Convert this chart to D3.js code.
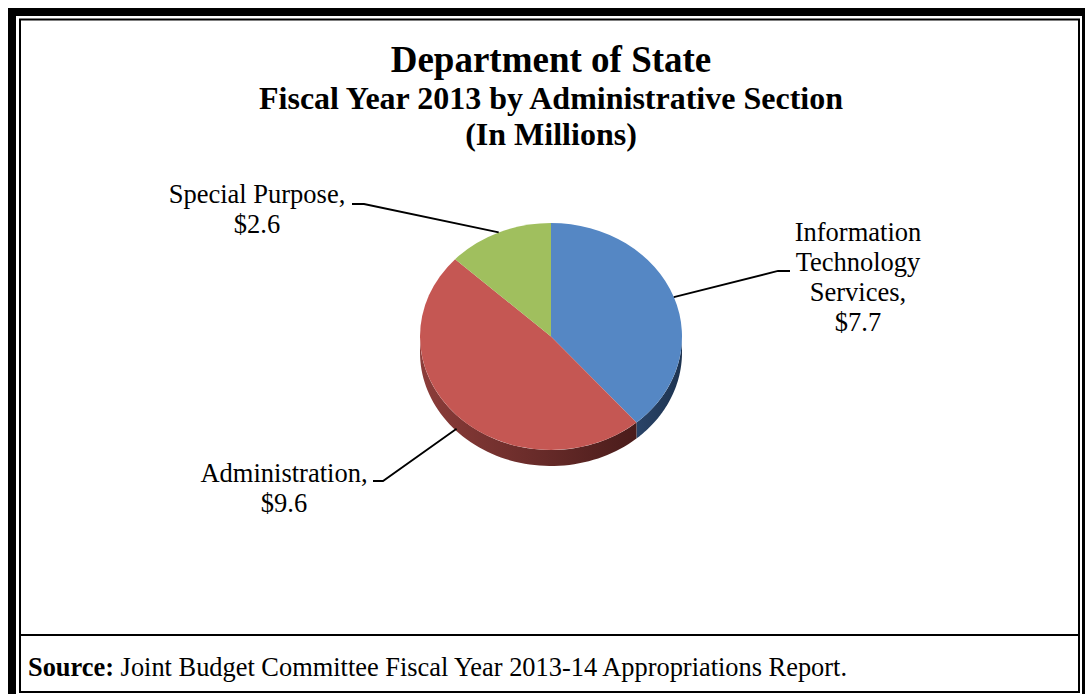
<!DOCTYPE html>
<html>
<head>
<meta charset="utf-8">
<script src="https://cdn.jsdelivr.net/npm/d3@7"></script>
<style>
  html, body { margin: 0; padding: 0; background: #fff; }
  svg { display: block; font-family: "Liberation Serif", "Times New Roman", serif; }
</style>
</head>
<body>
<svg id="chart" width="1085" height="694"></svg>
<script>
// data
var categories = ["Information Technology Services", "Administration", "Special Purpose"];
var values = [7.7, 9.6, 2.6];
var labelLines = [
    ["Information", "Technology", "Services,", "$7.7"],
    ["Administration,", "$9.6"],
    ["Special Purpose,", "$2.6"]
];
var titleLines = ["Department of State", "Fiscal Year 2013 by Administrative Section", "(In Millions)"];
var sourceBold = "Source:";
var sourceText = " Joint Budget Committee Fiscal Year 2013-14 Appropriations Report.";

var topColors  = ["#5587c4", "#c55753", "#a0bf5e"];
var sideColors = [["#2a4468", "#1d3350"], ["#8c3d3a", "#4a1c1b"], ["#6f8a3c", "#4f6428"]];

var svg = d3.select("#chart");
var W = 1085, H = 694;

// frame
svg.append("rect")
    .attr("x", 12).attr("y", 12)
    .attr("width", 1074).attr("height", 700)
    .attr("fill", "none").attr("stroke", "#000").attr("stroke-width", 8);
svg.append("rect")
    .attr("x", 20).attr("y", 19.5)
    .attr("width", 1059).attr("height", 672.5)
    .attr("fill", "none").attr("stroke", "#000").attr("stroke-width", 2);
svg.append("line")
    .attr("x1", 20).attr("x2", 1079)
    .attr("y1", 635).attr("y2", 635)
    .attr("stroke", "#000").attr("stroke-width", 2.2);

// titles
var titleSizes = [37, 32, 32];
var titleY = [72, 109, 145];
svg.selectAll(".title")
    .data(titleLines)
    .enter().append("text")
    .attr("class", "title")
    .attr("x", 551)
    .attr("y", (d, i) => titleY[i])
    .attr("text-anchor", "middle")
    .style("font-weight", "bold")
    .style("font-size", (d, i) => titleSizes[i] + "px")
    .text(d => d);

// pie geometry (tilted ellipse)
var cx = 551, cy = 336.5, rx = 131, ry = 113.5, depth = 16;

var pie = d3.pie().sort(null).value(d => d);
var arcs = pie(values);

function pt(a, dy) {
    return [cx + rx * Math.sin(a), cy - ry * Math.cos(a) + (dy || 0)];
}

var defs = svg.append("defs");
sideColors.forEach((c, i) => {
    var g = defs.append("linearGradient")
        .attr("id", "side" + i)
        .attr("x1", "0").attr("x2", "1").attr("y1", "0").attr("y2", "0");
    g.append("stop").attr("offset", "0%").attr("stop-color", c[0]);
    g.append("stop").attr("offset", "100%").attr("stop-color", c[1]);
});

// sides: only the front half (angles between PI/2 and 3PI/2) shows
var sideLayer = svg.append("g");
arcs.forEach((d, i) => {
    var a0 = Math.max(d.startAngle, Math.PI / 2);
    var a1 = Math.min(d.endAngle, Math.PI * 1.5);
    if (a1 <= a0) return;
    var steps = 60, top = [], bottom = [];
    for (var k = 0; k <= steps; k++) {
        var a = a0 + (a1 - a0) * k / steps;
        top.push(pt(a, 0));
        bottom.push(pt(a, depth));
    }
    var ring = top.concat(bottom.reverse());
    sideLayer.append("path")
        .attr("d", d3.line()(ring) + "Z")
        .attr("fill", "url(#side" + i + ")");
});

// top faces
var arc = d3.arc().innerRadius(0).outerRadius(rx);
svg.append("g")
    .attr("transform", "translate(" + cx + "," + cy + ") scale(1," + (ry / rx) + ")")
    .selectAll("path")
    .data(arcs)
    .enter().append("path")
    .attr("d", arc)
    .attr("fill", (d, i) => topColors[i]);

// labels with leader lines
var labelPos = [
    {x: 858, y: 241, elbow: [790, 778, 271]},
    {x: 284, y: 482, elbow: [373, 383, 481]},
    {x: 257, y: 203, elbow: [352, 364, 204]}
];

arcs.forEach((d, i) => {
    var mid = (d.startAngle + d.endAngle) / 2;
    var front = Math.cos(mid) < 0;
    var p = pt(mid, front ? depth * 0.85 : 0);
    var e = labelPos[i].elbow;
    svg.append("path")
        .attr("d", d3.line()([[e[0], e[2]], [e[1], e[2]], p]))
        .attr("fill", "none")
        .attr("stroke", "#000")
        .attr("stroke-width", 1.8);

    svg.append("text")
        .attr("text-anchor", "middle")
        .style("font-size", "26.5px")
        .selectAll("tspan")
        .data(labelLines[i])
        .enter().append("tspan")
        .attr("x", labelPos[i].x)
        .attr("y", (t, j) => labelPos[i].y + j * 30)
        .text(t => t);
});

// source note
var src = svg.append("text")
    .attr("x", 28).attr("y", 676)
    .style("font-size", "26.4px");
src.append("tspan").style("font-weight", "bold").text(sourceBold);
src.append("tspan").text(sourceText);
</script>
</body>
</html>
